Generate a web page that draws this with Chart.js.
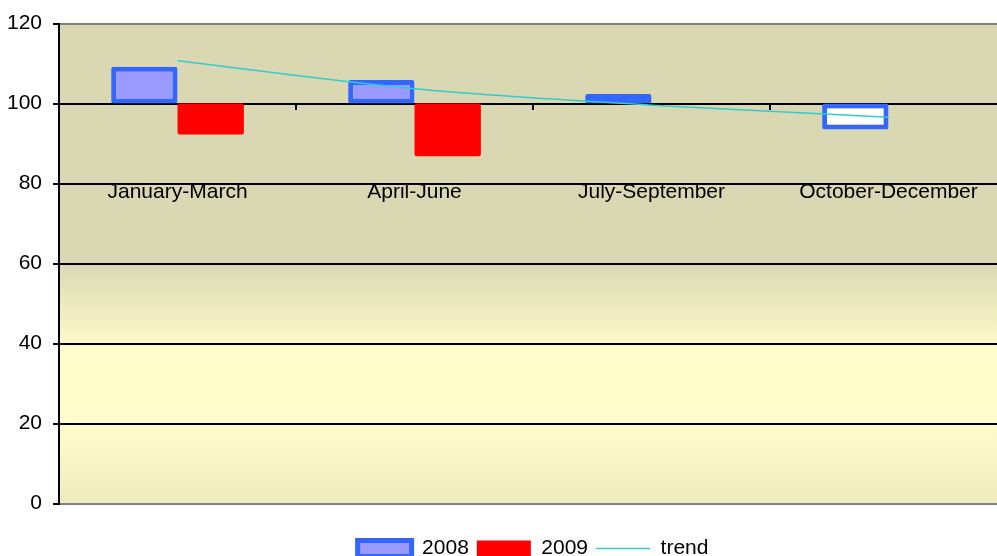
<!DOCTYPE html>
<html lang="en">

<head>
    <meta charset="UTF-8" />
    <title>Quarterly index 2008 / 2009</title>
    <script src="https://cdn.jsdelivr.net/npm/chart.js"></script>
    <style>
        body {
            margin: 0;
            overflow: hidden;
            background: #fff;
        }

        canvas {
            display: block;
        }
    </style>
</head>

<body>

    <canvas id="quarterChart" width="1010" height="569"></canvas>

    <script>
        const quarters = ["January-March", "April-June", "July-September", "October-December"];
        const baseLine = 100;
        const values2008 = [109.2, 105.9, 102.4, 93.5];
        const values2009 = [92.3, 86.8, null, null];
        const trendValues = [110.7, 103.7, 99.6, 96.6];

        // floating bars start at the 100 line
        const toFloating = vals => vals.map(v => v === null ? null : [baseLine, v]);

        const fontFamily = "Arial, 'Liberation Sans', sans-serif";

        const plotBackground = {
            id: 'plotBackground',
            beforeDraw(chart) {
                const { ctx, chartArea: a } = chart;
                const g = ctx.createLinearGradient(0, a.top, 0, a.bottom);
                g.addColorStop(0, '#DAD8B2');
                g.addColorStop(0.5, '#DAD8B2');
                g.addColorStop(0.68, '#FFFDCC');
                g.addColorStop(0.83, '#FFFDCC');
                g.addColorStop(1, '#EEEBC0');
                ctx.save();
                ctx.fillStyle = g;
                ctx.fillRect(a.left, a.top, a.right - a.left, a.bottom - a.top);
                ctx.restore();
            }
        };

        const ctx = document.getElementById('quarterChart').getContext('2d');
        new Chart(ctx, {
            type: 'bar',
            data: {
                labels: quarters,
                datasets: [
                    {
                        label: '2008',
                        data: toFloating(values2008),
                        backgroundColor: c => {
                            const v = c.raw;
                            return v && v[1] < baseLine ? '#FFFFFF' : '#9999FF';
                        },
                        borderColor: '#3366FF',
                        borderWidth: 5,
                        borderSkipped: false,
                        borderRadius: 2,
                        order: 1
                    },
                    {
                        label: '2009',
                        data: toFloating(values2009),
                        backgroundColor: '#FF0000',
                        borderColor: '#FF0000',
                        borderWidth: 0,
                        borderSkipped: false,
                        borderRadius: 2,
                        order: 1
                    },
                    {
                        type: 'line',
                        label: 'trend',
                        data: trendValues,
                        borderColor: '#33CCCC',
                        backgroundColor: '#33CCCC',
                        borderWidth: 1.5,
                        pointRadius: 0,
                        cubicInterpolationMode: 'monotone',
                        order: 0
                    }
                ]
            },
            options: {
                responsive: false,
                animation: false,
                categoryPercentage: 0.56,
                barPercentage: 1,
                layout: {
                    padding: { left: -4, top: 22, right: 3, bottom: 0 }
                },
                scales: {
                    x: {
                        position: { y: baseLine },
                        offset: true,
                        border: { display: false },
                        grid: {
                            offset: true,
                            drawOnChartArea: false,
                            drawTicks: true,
                            tickLength: 6,
                            color: '#000',
                            lineWidth: 2
                        },
                        ticks: {
                            padding: 70,
                            color: '#000',
                            font: { family: fontFamily, size: 21 },
                            maxRotation: 0
                        },
                        // the big label gap must not shrink the plot sideways
                        afterFit(scale) {
                            scale.paddingLeft = 0;
                            scale.paddingRight = 0;
                        }
                    },
                    y: {
                        min: 0,
                        max: 120,
                        border: { color: '#000', width: 2 },
                        grid: {
                            color: c => (c.tick && (c.tick.value === 0 || c.tick.value === 120)) ? '#808080' : '#000',
                            lineWidth: 2,
                            tickLength: 6,
                            tickColor: '#000'
                        },
                        ticks: {
                            stepSize: 20,
                            padding: 11,
                            color: '#000',
                            font: { family: fontFamily, size: 21 }
                        }
                    }
                },
                plugins: {
                    tooltip: { enabled: false },
                    legend: {
                        position: 'bottom',
                        fullSize: false,
                        title: {
                            display: true,
                            text: '',
                            padding: { top: 12.1, bottom: 0 }
                        },
                        labels: {
                            usePointStyle: true,
                            pointStyleWidth: 54,
                            boxHeight: 16,
                            padding: 8,
                            color: '#000',
                            font: { family: fontFamily, size: 21 },
                            sort: (a, b) => a.datasetIndex - b.datasetIndex,
                            generateLabels(chart) {
                                const items = Chart.defaults.plugins.legend.labels.generateLabels(chart);
                                items.forEach(it => {
                                    if (it.datasetIndex === 2) {
                                        it.pointStyle = 'line';
                                        it.lineWidth = 1.5;
                                    } else {
                                        it.pointStyle = 'rect';
                                        if (it.datasetIndex === 0) {
                                            it.fillStyle = '#9999FF';
                                            it.lineWidth = 5;
                                        }
                                    }
                                });
                                return items;
                            }
                        }
                    }
                }
            },
            plugins: [plotBackground]
        });
    </script>

</body>

</html>
